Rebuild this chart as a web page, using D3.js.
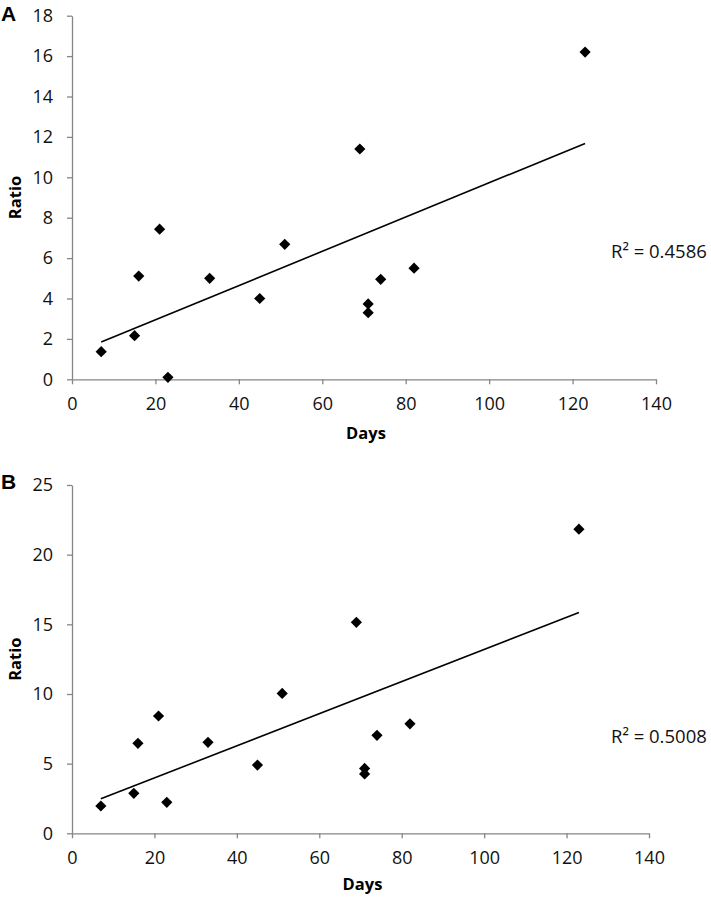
<!DOCTYPE html>
<html>
<head>
<meta charset="utf-8">
<script src="https://cdn.jsdelivr.net/npm/d3@7"></script>
<style>
  html, body { margin: 0; padding: 0; background: #fff; }
  svg { display: block; }
  text { font-family: "Open Sans", "Noto Sans", sans-serif; }
</style>
</head>
<body>
<svg id="chart" width="711" height="898"></svg>
<script>
// ---- data ----
const days = [7, 15, 16, 21, 23, 33, 45, 51, 69, 71, 71, 74, 82, 123];
const ratioA = [1.37, 2.16, 5.11, 7.43, 0.1, 5.0, 4.0, 6.68, 11.4, 3.73, 3.3, 4.95, 5.5, 16.2];
const ratioB = [1.96, 2.87, 6.46, 8.42, 2.22, 6.53, 4.9, 10.04, 15.14, 4.66, 4.26, 7.03, 7.86, 21.83];
const xTicks = [0, 20, 40, 60, 80, 100, 120, 140];
const yTicksA = [0, 2, 4, 6, 8, 10, 12, 14, 16, 18];
const yTicksB = [0, 5, 10, 15, 20, 25];
const panelLabels = ["A", "B"];
const r2Labels = ["R\u00B2 = 0.4586", "R\u00B2 = 0.5008"];
const xTitle = "Days";
const yTitle = "Ratio";

const svg = d3.select("#chart");

function fit(xs, ys) {
  const n = xs.length;
  const mx = d3.mean(xs), my = d3.mean(ys);
  let sxy = 0, sxx = 0;
  for (let i = 0; i < n; i++) { sxy += (xs[i]-mx)*(ys[i]-my); sxx += (xs[i]-mx)*(xs[i]-mx); }
  const b = sxy / sxx;
  return {b, a: my - b*mx};
}

function panel(cfg) {
  const g = svg.append("g");
  const x = d3.scaleLinear().domain([0, 140]).range([cfg.x0, cfg.x1]);
  const y = d3.scaleLinear().domain([0, cfg.yMax]).range([cfg.y0, cfg.y1]);
  const axisColor = "#868686";

  const ya = g.append("g").attr("transform", `translate(${cfg.x0},0)`)
    .call(d3.axisLeft(y).tickValues(cfg.yTicks).tickSize(5).tickSizeOuter(0).tickPadding(14));
  const xa = g.append("g").attr("transform", `translate(0,${cfg.y0})`)
    .call(d3.axisBottom(x).tickValues(xTicks).tickSize(5).tickSizeOuter(0).tickPadding(13));
  [ya, xa].forEach(a => {
    a.select(".domain").attr("stroke", axisColor).attr("stroke-width", 1.3);
    a.selectAll(".tick line").attr("stroke", axisColor).attr("stroke-width", 1.3);
    a.selectAll(".tick text").attr("fill", "#111").style("font-size", "18px")
      .style("font-family", "'Open Sans', sans-serif");
  });
  xa.selectAll(".tick text").attr("dy", "0.71em");

  const f = fit(days, cfg.vals);
  const xmin = d3.min(days), xmax = d3.max(days);
  g.append("line")
    .attr("x1", x(xmin)).attr("y1", y(f.a + f.b*xmin))
    .attr("x2", x(xmax)).attr("y2", y(f.a + f.b*xmax))
    .attr("stroke", "#000").attr("stroke-width", 1.6);

  const sym = d3.symbol().type(d3.symbolDiamond2).size(80);
  g.selectAll("path.pt").data(days.map((d, i) => [d, cfg.vals[i]]))
    .join("path").attr("class", "pt")
    .attr("d", sym)
    .attr("transform", d => `translate(${x(d[0])},${y(d[1])})`)
    .attr("fill", "#000");

  g.append("text").attr("x", (cfg.x0 + cfg.x1)/2 + 2).attr("y", cfg.y0 + cfg.daysDy)
    .attr("text-anchor", "middle").style("font-size", "16.5px").style("font-weight", "bold")
    .text(xTitle);
  g.append("text").attr("transform", `translate(21,${(cfg.y0 + cfg.y1)/2}) rotate(-90)`)
    .attr("text-anchor", "middle").style("font-size", "16.5px").style("font-weight", "bold")
    .text(yTitle);
  g.append("text").attr("x", 1).attr("y", cfg.labelY)
    .style("font-family", "'Liberation Sans', Arial, sans-serif")
    .style("font-size", "21px").style("font-weight", "bold").text(cfg.label);
  g.append("text").attr("x", 611).attr("y", cfg.r2Y)
    .style("font-size", "18.5px").attr("fill", "#111").text(cfg.r2);
}

panel({x0: 72, x1: 656, y0: 379.3, y1: 15.7, yMax: 18, yTicks: yTicksA, vals: ratioA,
       label: panelLabels[0], labelY: 21, r2: r2Labels[0], r2Y: 258, daysDy: 60});
panel({x0: 72, x1: 649, y0: 833.3, y1: 485, yMax: 25, yTicks: yTicksB, vals: ratioB,
       label: panelLabels[1], labelY: 489, r2: r2Labels[1], r2Y: 743, daysDy: 57});
</script>
</body>
</html>
